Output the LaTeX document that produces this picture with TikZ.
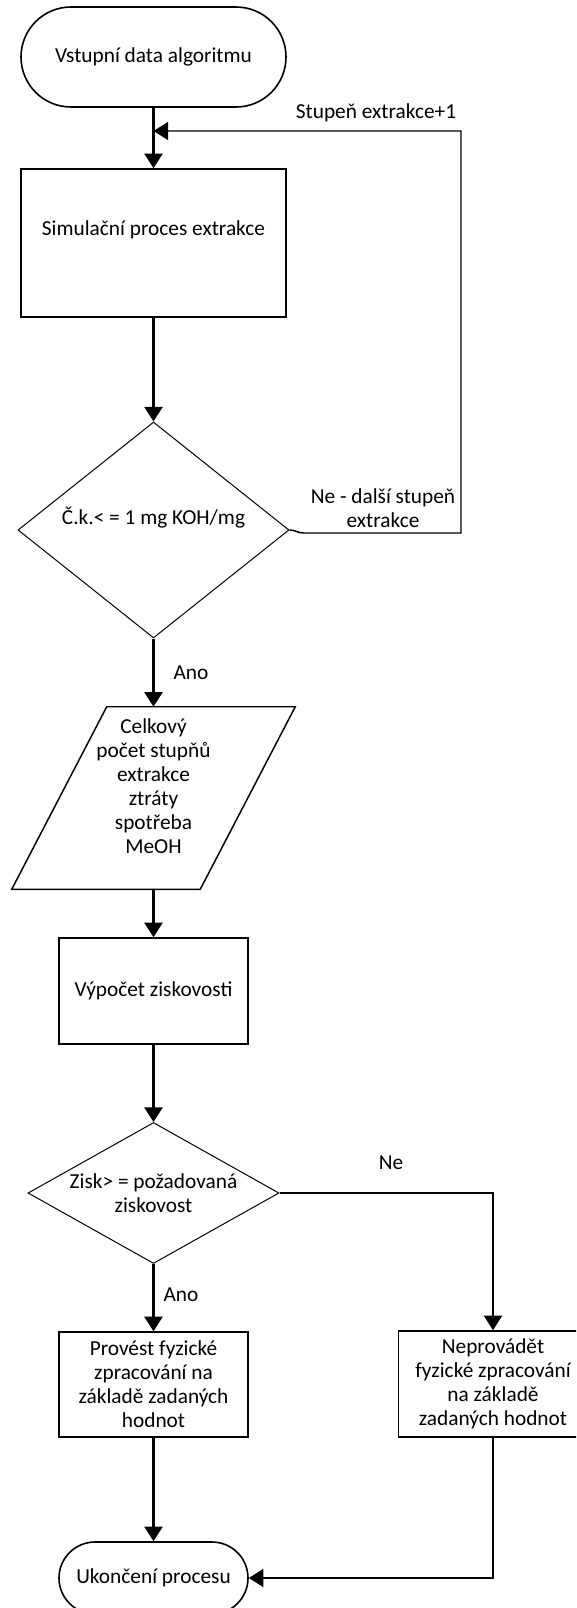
\documentclass[tikz,border=0pt]{standalone}
\usepackage{fontspec}
\setmainfont{Carlito}
\usetikzlibrary{shapes.geometric,arrows.meta,calc}

\begin{document}
\begin{tikzpicture}[x=0.75pt,y=-0.75pt,
  font=\fontsize{16}{18}\selectfont,
  term/.style={draw,line width=1.2pt,inner sep=0pt},
  box/.style={draw,line width=1.1pt,align=center,inner sep=0pt,minimum width=141.75pt},
  decide/.style={draw,diamond,line width=0.75pt,align=center,inner sep=0pt},
  io/.style={align=center,inner sep=0pt,minimum width=212.25pt,minimum height=136.5pt},
  flow/.style={line width=2pt,-{Triangle[length=11pt,width=13.5pt]}},
  link/.style={line width=1.5pt,-{Triangle[length=11pt,width=13.5pt]}},
  back/.style={line width=1.1pt,-{Triangle[length=11pt,width=13.5pt]}},
  lbl/.style={align=center,inner sep=0pt}]
\useasboundingbox (0,0) rectangle (576,1608);
\clip (0,0) rectangle (576,1608);
% extraction loop
\node[term,rounded corners=37.5pt,minimum width=198.75pt,minimum height=75pt] (start) at (153.5,57) {Vstupní data algoritmu};
\node[box,minimum width=198.75pt,minimum height=111pt] (sim) at (153.5,243) {Simulační proces extrakce\\[4pt]\mbox{}};
\node[decide,shape aspect=1.25,minimum width=203.25pt,minimum height=162pt] (ck) at (153.5,530) {Č.k.< = 1 mg KOH/mg\\[4pt]\mbox{}};
\node[io] (res) at (153.5,798) {Celkový\\počet stupňů\\extrakce\\ztráty\\spotřeba\\MeOH\\\mbox{}};
\draw[line width=1.1pt] ($(res.north west)+(95,0)$) -- (res.north east)
  -- ($(res.south east)+(-95,0)$) -- (res.south west) -- cycle;
\coordinate (merge) at (153.5,131);
\draw[flow] (start) -- (sim);
\draw[flow] (sim) -- (ck);
\draw[flow] (ck) -- node[lbl,right=14pt]{Ano} (res);
\draw[back] (ck.east) .. controls +(6,0) and +(-6,0) .. ++(14,3) -| (461,131) -- (merge);
\node[lbl] (lstep) at (376,113) {Stupeň extrakce+1};
\node[lbl] (lnext) at (383,508.5) {Ne - další stupeň\\extrakce};
% profitability
\node[box,minimum height=79.5pt] (calc) at (153.5,991) {Výpočet ziskovosti};
\node[decide,shape aspect=1.78,minimum width=188.25pt,minimum height=105.75pt] (zisk) at (153.5,1193) {Zisk> = požadovaná\\ziskovost};
\node[box,minimum height=78.75pt] (yes) at (153.5,1384.5) {Provést fyzické\\zpracování na\\základě zadaných\\hodnot};
\node[box,minimum height=79.5pt] (no) at (493,1384) {Neprovádět\\fyzické zpracování\\na základě\\zadaných hodnot};
\node[term,rounded corners=27pt,minimum width=141.75pt,minimum height=54pt] (stop) at (153.5,1578) {Ukončení procesu};
\draw[flow] (res) -- (calc);
\draw[flow] (calc) -- (zisk);
\draw[flow] (zisk) -- node[lbl,right=6.5pt,pos=0.45]{Ano} (yes);
\draw[link] (zisk.east) -| (no.north);
\node[lbl] (lno) at (391,1163) {Ne};
\draw[flow] (yes) -- (stop);
\draw[link] (no.south) |- (stop.east);
\end{tikzpicture}
\end{document}
